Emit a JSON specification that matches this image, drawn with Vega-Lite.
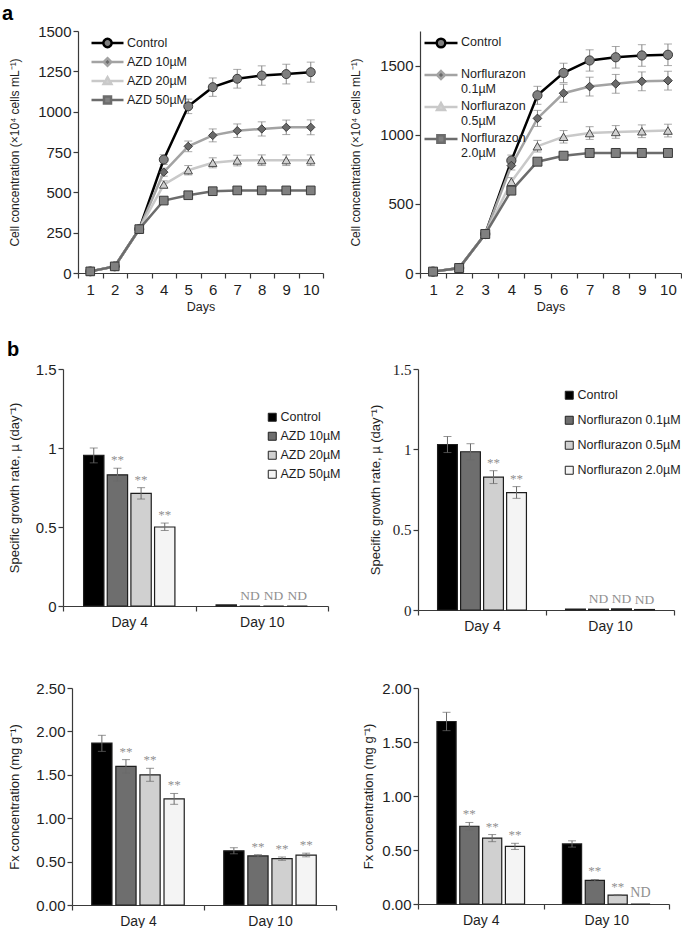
{
  "$schema": "https://vega.github.io/schema/vega-lite/v6.json",
  "padding": {"left": 2, "top": 4, "right": 0, "bottom": 0},
  "background": "white",
  "title": {"text": "a", "anchor": "start", "fontSize": 20, "fontWeight": "bold", "offset": 0, "frame": "bounds", "dx": -5},
  "datasets": {
    "gA": [
      {"day": 1, "s": "Control", "v": 10}, {"day": 2, "s": "Control", "v": 41}, {"day": 3, "s": "Control", "v": 272},
      {"day": 4, "s": "Control", "v": 703, "lo": 673, "hi": 733}, {"day": 5, "s": "Control", "v": 1033, "lo": 988, "hi": 1078},
      {"day": 6, "s": "Control", "v": 1152, "lo": 1095, "hi": 1209}, {"day": 7, "s": "Control", "v": 1204, "lo": 1146, "hi": 1262},
      {"day": 8, "s": "Control", "v": 1224, "lo": 1164, "hi": 1284}, {"day": 9, "s": "Control", "v": 1233, "lo": 1172, "hi": 1294},
      {"day": 10, "s": "Control", "v": 1245, "lo": 1183, "hi": 1307},
      {"day": 1, "s": "AZD 10µM", "v": 10}, {"day": 2, "s": "AZD 10µM", "v": 41}, {"day": 3, "s": "AZD 10µM", "v": 272},
      {"day": 4, "s": "AZD 10µM", "v": 625, "lo": 600, "hi": 650}, {"day": 5, "s": "AZD 10µM", "v": 785, "lo": 752, "hi": 818},
      {"day": 6, "s": "AZD 10µM", "v": 853, "lo": 813, "hi": 893}, {"day": 7, "s": "AZD 10µM", "v": 882, "lo": 840, "hi": 924},
      {"day": 8, "s": "AZD 10µM", "v": 893, "lo": 849, "hi": 937}, {"day": 9, "s": "AZD 10µM", "v": 903, "lo": 858, "hi": 948},
      {"day": 10, "s": "AZD 10µM", "v": 903, "lo": 857, "hi": 949},
      {"day": 1, "s": "AZD 20µM", "v": 10}, {"day": 2, "s": "AZD 20µM", "v": 41}, {"day": 3, "s": "AZD 20µM", "v": 272},
      {"day": 4, "s": "AZD 20µM", "v": 548, "lo": 525, "hi": 571}, {"day": 5, "s": "AZD 20µM", "v": 637, "lo": 608, "hi": 666},
      {"day": 6, "s": "AZD 20µM", "v": 683, "lo": 652, "hi": 714}, {"day": 7, "s": "AZD 20µM", "v": 697, "lo": 664, "hi": 730},
      {"day": 8, "s": "AZD 20µM", "v": 699, "lo": 666, "hi": 732}, {"day": 9, "s": "AZD 20µM", "v": 699, "lo": 666, "hi": 732},
      {"day": 10, "s": "AZD 20µM", "v": 699, "lo": 666, "hi": 732},
      {"day": 1, "s": "AZD 50µM", "v": 10}, {"day": 2, "s": "AZD 50µM", "v": 41}, {"day": 3, "s": "AZD 50µM", "v": 272},
      {"day": 4, "s": "AZD 50µM", "v": 449, "lo": 439, "hi": 459}, {"day": 5, "s": "AZD 50µM", "v": 482, "lo": 471, "hi": 493},
      {"day": 6, "s": "AZD 50µM", "v": 507, "lo": 497, "hi": 517}, {"day": 7, "s": "AZD 50µM", "v": 512, "lo": 502, "hi": 522},
      {"day": 8, "s": "AZD 50µM", "v": 512, "lo": 502, "hi": 522}, {"day": 9, "s": "AZD 50µM", "v": 512, "lo": 502, "hi": 522},
      {"day": 10, "s": "AZD 50µM", "v": 512, "lo": 502, "hi": 522}
    ],
    "gN": [
      {"day": 1, "s": "Control", "v": 10}, {"day": 2, "s": "Control", "v": 36}, {"day": 3, "s": "Control", "v": 282},
      {"day": 4, "s": "Control", "v": 813, "lo": 773, "hi": 853}, {"day": 5, "s": "Control", "v": 1285, "lo": 1220, "hi": 1350},
      {"day": 6, "s": "Control", "v": 1447, "lo": 1377, "hi": 1517}, {"day": 7, "s": "Control", "v": 1537, "lo": 1460, "hi": 1614},
      {"day": 8, "s": "Control", "v": 1560, "lo": 1482, "hi": 1638}, {"day": 9, "s": "Control", "v": 1573, "lo": 1495, "hi": 1651},
      {"day": 10, "s": "Control", "v": 1578, "lo": 1500, "hi": 1656},
      {"day": 1, "s": "Norflurazon 0.1µM", "v": 10}, {"day": 2, "s": "Norflurazon 0.1µM", "v": 36}, {"day": 3, "s": "Norflurazon 0.1µM", "v": 282},
      {"day": 4, "s": "Norflurazon 0.1µM", "v": 777, "lo": 745, "hi": 809}, {"day": 5, "s": "Norflurazon 0.1µM", "v": 1118, "lo": 1060, "hi": 1176},
      {"day": 6, "s": "Norflurazon 0.1µM", "v": 1300, "lo": 1235, "hi": 1365}, {"day": 7, "s": "Norflurazon 0.1µM", "v": 1348, "lo": 1280, "hi": 1416},
      {"day": 8, "s": "Norflurazon 0.1µM", "v": 1368, "lo": 1300, "hi": 1436}, {"day": 9, "s": "Norflurazon 0.1µM", "v": 1386, "lo": 1318, "hi": 1454},
      {"day": 10, "s": "Norflurazon 0.1µM", "v": 1391, "lo": 1323, "hi": 1459},
      {"day": 1, "s": "Norflurazon 0.5µM", "v": 10}, {"day": 2, "s": "Norflurazon 0.5µM", "v": 36}, {"day": 3, "s": "Norflurazon 0.5µM", "v": 282},
      {"day": 4, "s": "Norflurazon 0.5µM", "v": 660, "lo": 630, "hi": 690}, {"day": 5, "s": "Norflurazon 0.5µM", "v": 917, "lo": 875, "hi": 959},
      {"day": 6, "s": "Norflurazon 0.5µM", "v": 985, "lo": 940, "hi": 1030}, {"day": 7, "s": "Norflurazon 0.5µM", "v": 1012, "lo": 966, "hi": 1058},
      {"day": 8, "s": "Norflurazon 0.5µM", "v": 1020, "lo": 974, "hi": 1066}, {"day": 9, "s": "Norflurazon 0.5µM", "v": 1025, "lo": 979, "hi": 1071},
      {"day": 10, "s": "Norflurazon 0.5µM", "v": 1030, "lo": 984, "hi": 1076},
      {"day": 1, "s": "Norflurazon 2.0µM", "v": 10}, {"day": 2, "s": "Norflurazon 2.0µM", "v": 36}, {"day": 3, "s": "Norflurazon 2.0µM", "v": 282},
      {"day": 4, "s": "Norflurazon 2.0µM", "v": 596, "lo": 576, "hi": 616}, {"day": 5, "s": "Norflurazon 2.0µM", "v": 805, "lo": 785, "hi": 825},
      {"day": 6, "s": "Norflurazon 2.0µM", "v": 848, "lo": 828, "hi": 868}, {"day": 7, "s": "Norflurazon 2.0µM", "v": 868, "lo": 848, "hi": 888},
      {"day": 8, "s": "Norflurazon 2.0µM", "v": 868, "lo": 848, "hi": 888}, {"day": 9, "s": "Norflurazon 2.0µM", "v": 868, "lo": 848, "hi": 888},
      {"day": 10, "s": "Norflurazon 2.0µM", "v": 868, "lo": 848, "hi": 888}
    ],
    "muA": [
      {"d": "Day 4", "s": "Control", "v": 0.953, "lo": 0.906, "hi": 1.0, "lab": ""},
      {"d": "Day 4", "s": "AZD 10µM", "v": 0.83, "lo": 0.79, "hi": 0.872, "lab": "**"},
      {"d": "Day 4", "s": "AZD 20µM", "v": 0.713, "lo": 0.677, "hi": 0.749, "lab": "**"},
      {"d": "Day 4", "s": "AZD 50µM", "v": 0.5, "lo": 0.478, "hi": 0.525, "lab": "**"},
      {"d": "Day 10", "s": "Control", "v": 0.007, "lab": ""},
      {"d": "Day 10", "s": "AZD 10µM", "v": 0, "lab": "ND"},
      {"d": "Day 10", "s": "AZD 20µM", "v": 0, "lab": "ND"},
      {"d": "Day 10", "s": "AZD 50µM", "v": 0, "lab": "ND"}
    ],
    "muN": [
      {"d": "Day 4", "s": "Control", "v": 1.03, "lo": 0.98, "hi": 1.08, "lab": ""},
      {"d": "Day 4", "s": "Norflurazon 0.1µM", "v": 0.985, "lo": 0.935, "hi": 1.035, "lab": ""},
      {"d": "Day 4", "s": "Norflurazon 0.5µM", "v": 0.827, "lo": 0.787, "hi": 0.867, "lab": "**"},
      {"d": "Day 4", "s": "Norflurazon 2.0µM", "v": 0.73, "lo": 0.695, "hi": 0.768, "lab": "**"},
      {"d": "Day 10", "s": "Control", "v": 0.005, "lab": ""},
      {"d": "Day 10", "s": "Norflurazon 0.1µM", "v": 0.005, "lab": "ND"},
      {"d": "Day 10", "s": "Norflurazon 0.5µM", "v": 0.007, "lab": "ND"},
      {"d": "Day 10", "s": "Norflurazon 2.0µM", "v": 0.003, "lab": "ND"}
    ],
    "fxA": [
      {"d": "Day 4", "s": "Control", "v": 1.865, "lo": 1.77, "hi": 1.955, "lab": ""},
      {"d": "Day 4", "s": "AZD 10µM", "v": 1.598, "lo": 1.52, "hi": 1.675, "lab": "**"},
      {"d": "Day 4", "s": "AZD 20µM", "v": 1.5, "lo": 1.425, "hi": 1.575, "lab": "**"},
      {"d": "Day 4", "s": "AZD 50µM", "v": 1.223, "lo": 1.16, "hi": 1.285, "lab": "**"},
      {"d": "Day 10", "s": "Control", "v": 0.624, "lo": 0.59, "hi": 0.66, "lab": ""},
      {"d": "Day 10", "s": "AZD 10µM", "v": 0.565, "lo": 0.55, "hi": 0.58, "lab": "**"},
      {"d": "Day 10", "s": "AZD 20µM", "v": 0.534, "lo": 0.515, "hi": 0.553, "lab": "**"},
      {"d": "Day 10", "s": "AZD 50µM", "v": 0.575, "lo": 0.555, "hi": 0.597, "lab": "**"}
    ],
    "fxN": [
      {"d": "Day 4", "s": "Control", "v": 1.69, "lo": 1.605, "hi": 1.775, "lab": ""},
      {"d": "Day 4", "s": "Norflurazon 0.1µM", "v": 0.72, "lo": 0.685, "hi": 0.755, "lab": "**"},
      {"d": "Day 4", "s": "Norflurazon 0.5µM", "v": 0.61, "lo": 0.577, "hi": 0.643, "lab": "**"},
      {"d": "Day 4", "s": "Norflurazon 2.0µM", "v": 0.534, "lo": 0.505, "hi": 0.562, "lab": "**"},
      {"d": "Day 10", "s": "Control", "v": 0.556, "lo": 0.527, "hi": 0.585, "lab": ""},
      {"d": "Day 10", "s": "Norflurazon 0.1µM", "v": 0.219, "lo": 0.211, "hi": 0.227, "lab": "**"},
      {"d": "Day 10", "s": "Norflurazon 0.5µM", "v": 0.082, "lo": 0.078, "hi": 0.086, "lab": "**"},
      {"d": "Day 10", "s": "Norflurazon 2.0µM", "v": 0, "lab": "ND"}
    ]
  },
  "columns": 1,
  "spacing": 27,
  "resolve": {"scale": {"fill": "independent", "stroke": "independent", "shape": "independent", "xOffset": "independent"}},
  "concat": [
    {
      "spacing": 0,
      "resolve": {"scale": {"fill": "independent", "stroke": "independent", "shape": "independent", "xOffset": "independent"}},
      "hconcat": [
        {"width": 1, "height": 10, "data": {"values": []}, "mark": "point"},
        {
          "spacing": 25,
          "resolve": {"scale": {"fill": "independent", "stroke": "independent", "shape": "independent", "xOffset": "independent"}},
          "hconcat": [
            {
              "width": 245, "height": 242,
              "data": {"name": "gA"},
              "encoding": {
                "x": {"field": "day", "type": "ordinal", "bandPosition": 0.5,
                      "scale": {"type": "band", "domain": [1,2,3,4,5,6,7,8,9,10], "paddingInner": 0, "paddingOuter": 0},
                      "axis": {"title": "Days", "tickBand": "extent", "labelAngle": 0, "labelPadding": 4, "titlePadding": 3, "titleFontSize": 12.5}}
              },
              "layer": [
                {"transform": [{"filter": "datum.lo != null"}], "mark": {"type": "rule", "color": "#858585", "strokeWidth": 1},
                 "encoding": {"y": {"field": "lo", "type": "quantitative"}, "y2": {"field": "hi"}}},
                {"transform": [{"filter": "datum.lo != null"}], "mark": {"type": "tick", "color": "#858585", "thickness": 1, "size": 8, "orient": "horizontal"},
                 "encoding": {"y": {"field": "lo", "type": "quantitative"}}},
                {"transform": [{"filter": "datum.lo != null"}], "mark": {"type": "tick", "color": "#858585", "thickness": 1, "size": 8, "orient": "horizontal"},
                 "encoding": {"y": {"field": "hi", "type": "quantitative"}}},
                {"mark": {"type": "line", "strokeWidth": 2.5},
                 "encoding": {
                   "y": {"field": "v", "type": "quantitative", "scale": {"domain": [0, 1500], "nice": false},
                         "axis": {"title": "Cell concentration (×10⁴ cells mL⁻¹)", "values": [0,250,500,750,1000,1250,1500], "format": "d", "minExtent": 40, "maxExtent": 40, "titlePadding": 17}},
                   "stroke": {"field": "s", "type": "nominal",
                              "scale": {"domain": ["Control", "AZD 10µM", "AZD 20µM", "AZD 50µM"], "range": ["#000000", "#a3a3a3", "#c9c9c9", "#6c6c6c"]},
                              "legend": {"orient": "none", "legendX": 12, "legendY": 4.5, "title": null, "symbolSize": 1024, "symbolStrokeWidth": 2.5,
                                         "labelFontSize": 12.5, "labelOffset": 2, "rowPadding": 4, "clipHeight": 15,
                                         "encode": {"symbols": {"update": {
                                           "shape": {"signal": "datum.index == 0 ? 'M-1,0H-0.26M0.26,0H1M0.26,0A0.26,0.26,0,1,1,-0.26,0A0.26,0.26,0,1,1,0.26,0Z' : datum.index == 1 ? 'M-1,0H-0.24M0.24,0H1M0,-0.24L0.24,0L0,0.24L-0.24,0Z' : datum.index == 2 ? 'M-1,0H-0.2M0.2,0H1M0,-0.24L0.24,0.18L-0.24,0.18Z' : 'M-1,0H-0.22M0.22,0H1M-0.22,-0.22H0.22V0.22H-0.22Z'"},
                                           "fill": {"signal": "datum.index == 0 ? '#7f7f7f' : datum.index == 1 ? '#6a6a6a' : datum.index == 2 ? '#d0d0d0' : '#808080'"}
                                         }}}}}
                 }},
                {"transform": [{"filter": "datum.s == 'Control'"}], "mark": {"type": "point", "shape": "circle", "filled": true, "fill": "#7f7f7f", "stroke": "#3a3a3a", "strokeWidth": 1, "opacity": 1, "size": 80},
                 "encoding": {"y": {"field": "v", "type": "quantitative"}}},
                {"transform": [{"filter": "datum.s == 'AZD 10µM'"}], "mark": {"type": "point", "shape": "diamond", "filled": true, "fill": "#6a6a6a", "stroke": "#3a3a3a", "strokeWidth": 1, "opacity": 1, "size": 70},
                 "encoding": {"y": {"field": "v", "type": "quantitative"}}},
                {"transform": [{"filter": "datum.s == 'AZD 20µM'"}], "mark": {"type": "point", "shape": "triangle-up", "filled": true, "fill": "#d0d0d0", "stroke": "#4a4a4a", "strokeWidth": 1, "opacity": 1, "size": 70},
                 "encoding": {"y": {"field": "v", "type": "quantitative"}}},
                {"transform": [{"filter": "datum.s == 'AZD 50µM'"}], "mark": {"type": "point", "shape": "square", "filled": true, "fill": "#808080", "stroke": "#3a3a3a", "strokeWidth": 1, "opacity": 1, "size": 75},
                 "encoding": {"y": {"field": "v", "type": "quantitative"}}}
              ]
            },
            {
              "width": 261, "height": 242,
              "data": {"name": "gN"},
              "encoding": {
                "x": {"field": "day", "type": "ordinal", "bandPosition": 0.5,
                      "scale": {"type": "band", "domain": [1,2,3,4,5,6,7,8,9,10], "paddingInner": 0, "paddingOuter": 0},
                      "axis": {"title": "Days", "tickBand": "extent", "labelAngle": 0, "labelPadding": 4, "titlePadding": 3, "titleFontSize": 12.5}}
              },
              "layer": [
                {"transform": [{"filter": "datum.lo != null"}], "mark": {"type": "rule", "color": "#858585", "strokeWidth": 1},
                 "encoding": {"y": {"field": "lo", "type": "quantitative"}, "y2": {"field": "hi"}}},
                {"transform": [{"filter": "datum.lo != null"}], "mark": {"type": "tick", "color": "#858585", "thickness": 1, "size": 8, "orient": "horizontal"},
                 "encoding": {"y": {"field": "lo", "type": "quantitative"}}},
                {"transform": [{"filter": "datum.lo != null"}], "mark": {"type": "tick", "color": "#858585", "thickness": 1, "size": 8, "orient": "horizontal"},
                 "encoding": {"y": {"field": "hi", "type": "quantitative"}}},
                {"mark": {"type": "line", "strokeWidth": 2.5},
                 "encoding": {
                   "y": {"field": "v", "type": "quantitative", "scale": {"domain": [0, 1750], "nice": false},
                         "axis": {"title": "Cell concentration (×10⁴ cells mL⁻¹)", "values": [0,250,500,750,1000,1250,1500,1750], "format": "d", "minExtent": 40, "maxExtent": 40, "titlePadding": 18}},
                   "stroke": {"field": "s", "type": "nominal",
                              "scale": {"domain": ["Control", "Norflurazon 0.1µM", "Norflurazon 0.5µM", "Norflurazon 2.0µM"], "range": ["#000000", "#a3a3a3", "#c9c9c9", "#6c6c6c"]},
                              "legend": {"orient": "none", "legendX": 3, "legendY": 4.5, "title": null, "symbolSize": 1089, "symbolStrokeWidth": 2.5,
                                         "labelFontSize": 12.5, "labelOffset": 2, "rowPadding": 2, "labelBaseline": "top", "clipHeight": 30,
                                         "labelExpr": "datum.label == 'Control' ? ['Control', ''] : split(datum.label, ' ')",
                                         "encode": {
                                           "labels": {"update": {"y": {"value": 0}, "dy": {"value": 0}, "lineHeight": {"value": 15}}},
                                           "symbols": {"update": {
                                           "y": {"value": 7.5},
                                           "shape": {"signal": "datum.index == 0 ? 'M-1,0H-0.26M0.26,0H1M0.26,0A0.26,0.26,0,1,1,-0.26,0A0.26,0.26,0,1,1,0.26,0Z' : datum.index == 1 ? 'M-1,0H-0.24M0.24,0H1M0,-0.24L0.24,0L0,0.24L-0.24,0Z' : datum.index == 2 ? 'M-1,0H-0.2M0.2,0H1M0,-0.24L0.24,0.18L-0.24,0.18Z' : 'M-1,0H-0.22M0.22,0H1M-0.22,-0.22H0.22V0.22H-0.22Z'"},
                                           "fill": {"signal": "datum.index == 0 ? '#7f7f7f' : datum.index == 1 ? '#6a6a6a' : datum.index == 2 ? '#d0d0d0' : '#808080'"}
                                         }}}}}
                 }},
                {"transform": [{"filter": "datum.s == 'Control'"}], "mark": {"type": "point", "shape": "circle", "filled": true, "fill": "#7f7f7f", "stroke": "#3a3a3a", "strokeWidth": 1, "opacity": 1, "size": 85},
                 "encoding": {"y": {"field": "v", "type": "quantitative"}}},
                {"transform": [{"filter": "datum.s == 'Norflurazon 0.1µM'"}], "mark": {"type": "point", "shape": "diamond", "filled": true, "fill": "#6a6a6a", "stroke": "#3a3a3a", "strokeWidth": 1, "opacity": 1, "size": 75},
                 "encoding": {"y": {"field": "v", "type": "quantitative"}}},
                {"transform": [{"filter": "datum.s == 'Norflurazon 0.5µM'"}], "mark": {"type": "point", "shape": "triangle-up", "filled": true, "fill": "#d0d0d0", "stroke": "#4a4a4a", "strokeWidth": 1, "opacity": 1, "size": 75},
                 "encoding": {"y": {"field": "v", "type": "quantitative"}}},
                {"transform": [{"filter": "datum.s == 'Norflurazon 2.0µM'"}], "mark": {"type": "point", "shape": "square", "filled": true, "fill": "#808080", "stroke": "#3a3a3a", "strokeWidth": 1, "opacity": 1, "size": 80},
                 "encoding": {"y": {"field": "v", "type": "quantitative"}}}
              ]
            }
          ]
        }
      ]
    },
    {
      "columns": 1,
      "spacing": 48,
      "resolve": {"scale": {"fill": "independent", "stroke": "independent", "shape": "independent", "xOffset": "independent"}},
      "concat": [
        {
          "title": {"text": "b", "anchor": "start", "fontSize": 20, "fontWeight": "bold", "offset": 2, "frame": "bounds"},
          "spacing": 0,
          "resolve": {"scale": {"fill": "independent", "stroke": "independent", "shape": "independent", "xOffset": "independent"}},
          "hconcat": [
            {"width": 1, "height": 10, "data": {"values": []}, "mark": "point"},
            {
              "spacing": 28,
              "resolve": {"scale": {"fill": "independent", "stroke": "independent", "shape": "independent", "xOffset": "independent"}},
              "hconcat": [
                {
                  "width": 265, "height": 237,
                  "data": {"name": "muA"},
                  "encoding": {
                    "x": {"field": "d", "type": "nominal", "scale": {"domain": ["Day 4", "Day 10"], "paddingInner": 0, "paddingOuter": 0},
                          "axis": {"title": null, "tickBand": "extent", "labelAngle": 0, "labelFontSize": 14, "labelPadding": 4}},
                    "xOffset": {"field": "s", "type": "nominal", "scale": {"domain": ["Control", "AZD 10µM", "AZD 20µM", "AZD 50µM"], "paddingInner": 0.14, "paddingOuter": 0.87}}
                  },
                  "layer": [
                    {"mark": {"type": "bar", "stroke": "#1e1e1e", "strokeWidth": 1.2},
                     "encoding": {
                       "y": {"field": "v", "type": "quantitative", "scale": {"domain": [0, 1.5], "nice": false},
                             "axis": {"title": "Specific growth rate, µ (day⁻¹)", "titleFontSize": 13, "values": [0, 0.5, 1, 1.5], "format": "~g", "minExtent": 28, "maxExtent": 28, "titlePadding": 14}},
                       "fill": {"field": "s", "type": "nominal", "scale": {"domain": ["Control", "AZD 10µM", "AZD 20µM", "AZD 50µM"], "range": ["#000000", "#6e6e6e", "#d0d0d0", "#f4f4f4"]},
                                "legend": {"orient": "none", "legendX": 203, "legendY": 42, "title": null, "symbolType": "square", "symbolSize": 64, "symbolStrokeColor": "#222", "symbolStrokeWidth": 1, "labelFontSize": 12.5, "labelOffset": 2, "rowPadding": 6}}
                     }},
                    {"transform": [{"filter": "datum.lo != null"}], "mark": {"type": "rule", "color": "#6a6a6a", "strokeWidth": 1},
                     "encoding": {"y": {"field": "lo", "type": "quantitative"}, "y2": {"field": "hi"}}},
                    {"transform": [{"filter": "datum.lo != null"}], "mark": {"type": "tick", "color": "#6a6a6a", "thickness": 1, "size": 8, "orient": "horizontal"},
                     "encoding": {"y": {"field": "lo", "type": "quantitative"}}},
                    {"transform": [{"filter": "datum.lo != null"}], "mark": {"type": "tick", "color": "#6a6a6a", "thickness": 1, "size": 8, "orient": "horizontal"},
                     "encoding": {"y": {"field": "hi", "type": "quantitative"}}},
                    {"transform": [{"filter": "datum.lab == '**'"}], "mark": {"type": "text", "font": "Liberation Serif", "fontSize": 13, "color": "#909090", "baseline": "bottom", "dy": -1},
                     "encoding": {"y": {"field": "hi", "type": "quantitative"}, "text": {"field": "lab"}}},
                    {"transform": [{"filter": "datum.lab == 'ND'"}], "mark": {"type": "text", "font": "Liberation Serif", "fontSize": 13.5, "color": "#909090", "baseline": "bottom", "dy": -3},
                     "encoding": {"y": {"field": "v", "type": "quantitative"}, "text": {"field": "lab"}}}
                  ]
                },
                {
                  "width": 256, "height": 241,
                  "data": {"name": "muN"},
                  "encoding": {
                    "x": {"field": "d", "type": "nominal", "scale": {"domain": ["Day 4", "Day 10"], "paddingInner": 0, "paddingOuter": 0},
                          "axis": {"title": null, "tickBand": "extent", "labelAngle": 0, "labelFontSize": 14, "labelPadding": 4}},
                    "xOffset": {"field": "s", "type": "nominal", "scale": {"domain": ["Control", "Norflurazon 0.1µM", "Norflurazon 0.5µM", "Norflurazon 2.0µM"], "paddingInner": 0.14, "paddingOuter": 0.85}}
                  },
                  "layer": [
                    {"mark": {"type": "bar", "stroke": "#1e1e1e", "strokeWidth": 1.2},
                     "encoding": {
                       "y": {"field": "v", "type": "quantitative", "scale": {"domain": [0, 1.5], "nice": false},
                             "axis": {"title": "Specific growth rate, µ (day⁻¹)", "titleFontSize": 13, "values": [0, 0.5, 1, 1.5], "format": "~g", "labelFont": "Liberation Serif", "labelFontSize": 15, "minExtent": 28, "maxExtent": 28, "titlePadding": 8}},
                       "fill": {"field": "s", "type": "nominal", "scale": {"domain": ["Control", "Norflurazon 0.1µM", "Norflurazon 0.5µM", "Norflurazon 2.0µM"], "range": ["#000000", "#6e6e6e", "#d0d0d0", "#f4f4f4"]},
                                "legend": {"orient": "none", "legendX": 145, "legendY": 20, "title": null, "symbolType": "square", "symbolSize": 64, "symbolStrokeColor": "#222", "symbolStrokeWidth": 1, "labelFontSize": 12.5, "labelOffset": 2, "rowPadding": 12}}
                     }},
                    {"transform": [{"filter": "datum.lo != null"}], "mark": {"type": "rule", "color": "#6a6a6a", "strokeWidth": 1},
                     "encoding": {"y": {"field": "lo", "type": "quantitative"}, "y2": {"field": "hi"}}},
                    {"transform": [{"filter": "datum.lo != null"}], "mark": {"type": "tick", "color": "#6a6a6a", "thickness": 1, "size": 8, "orient": "horizontal"},
                     "encoding": {"y": {"field": "lo", "type": "quantitative"}}},
                    {"transform": [{"filter": "datum.lo != null"}], "mark": {"type": "tick", "color": "#6a6a6a", "thickness": 1, "size": 8, "orient": "horizontal"},
                     "encoding": {"y": {"field": "hi", "type": "quantitative"}}},
                    {"transform": [{"filter": "datum.lab == '**'"}], "mark": {"type": "text", "font": "Liberation Serif", "fontSize": 13, "color": "#909090", "baseline": "bottom", "dy": -1},
                     "encoding": {"y": {"field": "hi", "type": "quantitative"}, "text": {"field": "lab"}}},
                    {"transform": [{"filter": "datum.lab == 'ND'"}], "mark": {"type": "text", "font": "Liberation Serif", "fontSize": 13.5, "color": "#909090", "baseline": "bottom", "dy": -3},
                     "encoding": {"y": {"field": "v", "type": "quantitative"}, "text": {"field": "lab"}}}
                  ]
                }
              ]
            }
          ]
        },
        {
          "spacing": 0,
          "resolve": {"scale": {"fill": "independent", "stroke": "independent", "shape": "independent", "xOffset": "independent"}},
          "hconcat": [
            {"width": 1, "height": 10, "data": {"values": []}, "mark": "point"},
            {
              "spacing": 25,
              "resolve": {"scale": {"fill": "independent", "stroke": "independent", "shape": "independent", "xOffset": "independent"}},
              "hconcat": [
                {
                  "width": 264, "height": 217,
                  "data": {"name": "fxA"},
                  "encoding": {
                    "x": {"field": "d", "type": "nominal", "scale": {"domain": ["Day 4", "Day 10"], "paddingInner": 0, "paddingOuter": 0},
                          "axis": {"title": null, "tickBand": "extent", "labelAngle": 0, "labelFontSize": 14, "labelPadding": 4}},
                    "xOffset": {"field": "s", "type": "nominal", "scale": {"domain": ["Control", "AZD 10µM", "AZD 20µM", "AZD 50µM"], "paddingInner": 0.16, "paddingOuter": 0.82}}
                  },
                  "layer": [
                    {"mark": {"type": "bar", "stroke": "#1e1e1e", "strokeWidth": 1.2},
                     "encoding": {
                       "y": {"field": "v", "type": "quantitative", "scale": {"domain": [0, 2.5], "nice": false},
                             "axis": {"title": "Fx concentration (mg g⁻¹)", "titleFontSize": 13, "values": [0, 0.5, 1, 1.5, 2, 2.5], "format": ".2f", "minExtent": 36, "maxExtent": 36, "titlePadding": 15}},
                       "fill": {"field": "s", "type": "nominal", "scale": {"domain": ["Control", "AZD 10µM", "AZD 20µM", "AZD 50µM"], "range": ["#000000", "#6e6e6e", "#d0d0d0", "#f4f4f4"]}, "legend": null}
                     }},
                    {"transform": [{"filter": "datum.lo != null"}], "mark": {"type": "rule", "color": "#6a6a6a", "strokeWidth": 1},
                     "encoding": {"y": {"field": "lo", "type": "quantitative"}, "y2": {"field": "hi"}}},
                    {"transform": [{"filter": "datum.lo != null"}], "mark": {"type": "tick", "color": "#6a6a6a", "thickness": 1, "size": 8, "orient": "horizontal"},
                     "encoding": {"y": {"field": "lo", "type": "quantitative"}}},
                    {"transform": [{"filter": "datum.lo != null"}], "mark": {"type": "tick", "color": "#6a6a6a", "thickness": 1, "size": 8, "orient": "horizontal"},
                     "encoding": {"y": {"field": "hi", "type": "quantitative"}}},
                    {"transform": [{"filter": "datum.lab == '**'"}], "mark": {"type": "text", "font": "Liberation Serif", "fontSize": 13, "color": "#909090", "baseline": "bottom", "dy": -1},
                     "encoding": {"y": {"field": "hi", "type": "quantitative"}, "text": {"field": "lab"}}}
                  ]
                },
                {
                  "width": 251, "height": 216,
                  "data": {"name": "fxN"},
                  "encoding": {
                    "x": {"field": "d", "type": "nominal", "scale": {"domain": ["Day 4", "Day 10"], "paddingInner": 0, "paddingOuter": 0},
                          "axis": {"title": null, "tickBand": "extent", "labelAngle": 0, "labelFontSize": 14, "labelPadding": 4}},
                    "xOffset": {"field": "s", "type": "nominal", "scale": {"domain": ["Control", "Norflurazon 0.1µM", "Norflurazon 0.5µM", "Norflurazon 2.0µM"], "paddingInner": 0.16, "paddingOuter": 0.83}}
                  },
                  "layer": [
                    {"mark": {"type": "bar", "stroke": "#1e1e1e", "strokeWidth": 1.2},
                     "encoding": {
                       "y": {"field": "v", "type": "quantitative", "scale": {"domain": [0, 2.0], "nice": false},
                             "axis": {"title": "Fx concentration (mg g⁻¹)", "titleFontSize": 13, "values": [0, 0.5, 1, 1.5, 2], "format": ".2f", "minExtent": 36, "maxExtent": 36, "titlePadding": 7}},
                       "fill": {"field": "s", "type": "nominal", "scale": {"domain": ["Control", "Norflurazon 0.1µM", "Norflurazon 0.5µM", "Norflurazon 2.0µM"], "range": ["#000000", "#6e6e6e", "#d0d0d0", "#f4f4f4"]}, "legend": null}
                     }},
                    {"transform": [{"filter": "datum.lo != null"}], "mark": {"type": "rule", "color": "#6a6a6a", "strokeWidth": 1},
                     "encoding": {"y": {"field": "lo", "type": "quantitative"}, "y2": {"field": "hi"}}},
                    {"transform": [{"filter": "datum.lo != null"}], "mark": {"type": "tick", "color": "#6a6a6a", "thickness": 1, "size": 8, "orient": "horizontal"},
                     "encoding": {"y": {"field": "lo", "type": "quantitative"}}},
                    {"transform": [{"filter": "datum.lo != null"}], "mark": {"type": "tick", "color": "#6a6a6a", "thickness": 1, "size": 8, "orient": "horizontal"},
                     "encoding": {"y": {"field": "hi", "type": "quantitative"}}},
                    {"transform": [{"filter": "datum.lab == '**'"}], "mark": {"type": "text", "font": "Liberation Serif", "fontSize": 13, "color": "#909090", "baseline": "bottom", "dy": -1},
                     "encoding": {"y": {"field": "hi", "type": "quantitative"}, "text": {"field": "lab"}}},
                    {"transform": [{"filter": "datum.lab == 'ND'"}], "mark": {"type": "text", "font": "Liberation Serif", "fontSize": 14, "color": "#909090", "baseline": "bottom", "dy": -4},
                     "encoding": {"y": {"field": "v", "type": "quantitative"}, "text": {"field": "lab"}}}
                  ]
                }
              ]
            }
          ]
        }
      ]
    }
  ],
  "config": {
    "view": {"stroke": null},
    "font": "Liberation Sans",
    "axis": {"grid": false, "domainColor": "#3a3a3a", "tickColor": "#3a3a3a", "domainWidth": 1.2, "tickWidth": 1.2, "tickSize": 5,
             "labelColor": "#1e1e1e", "titleColor": "#1e1e1e", "labelFontSize": 15, "titleFontSize": 12, "titleFontWeight": "normal",
             "labelFont": "Liberation Sans", "titleFont": "Liberation Sans"},
    "axisY": {"labelPadding": 2},
    "legend": {"labelFont": "Liberation Sans", "labelColor": "#1e1e1e", "padding": 0},
    "title": {"font": "Liberation Sans", "color": "#000000"}
  }
}
